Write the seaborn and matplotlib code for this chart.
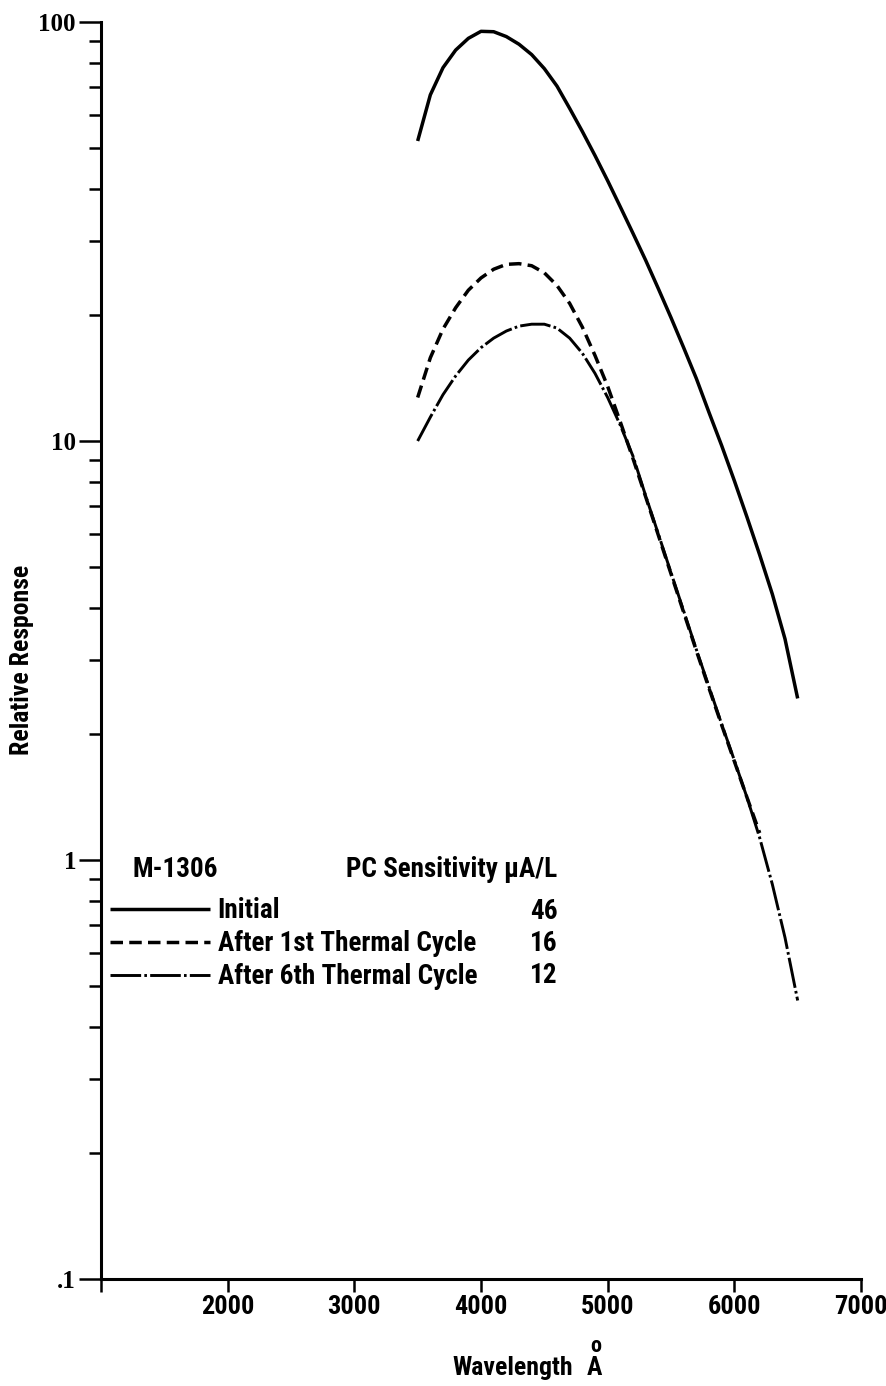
import numpy as np
import pandas as pd
import matplotlib
matplotlib.use("Agg")
import matplotlib.pyplot as plt
import seaborn as sns
from matplotlib import font_manager as fm
from matplotlib.ticker import FixedLocator, FixedFormatter, LogLocator, NullFormatter

# ---------------- data ----------------
wavelength_initial = [3500, 3600, 3700, 3800, 3900, 4000, 4100, 4200, 4300, 4400,
                      4500, 4600, 4700, 4800, 4900, 5000, 5100, 5200, 5300, 5400,
                      5500, 5600, 5700, 5800, 5900, 6000, 6100, 6200, 6300, 6400, 6500]
response_initial = [52.0, 67.0, 77.8, 85.7, 91.4, 95.0, 94.8, 92.3, 88.5, 83.6,
                    77.4, 70.3, 62.2, 54.8, 48.0, 41.8, 36.2, 31.3, 27.0, 23.1,
                    19.7, 16.7, 14.1, 11.7, 9.75, 8.04, 6.58, 5.35, 4.31, 3.37, 2.43]

wavelength_cycle1 = [3500, 3600, 3700, 3800, 3900, 4000, 4100, 4200, 4300, 4400,
                     4500, 4600, 4700, 4800, 4900, 5000, 5100, 5200, 5300, 5400,
                     5500, 5600, 5700, 5800, 5900, 6000, 6100, 6200]
response_cycle1 = [12.7, 15.8, 18.5, 20.8, 22.9, 24.5, 25.7, 26.4, 26.5, 26.2,
                   25.2, 23.5, 21.3, 18.7, 16.0, 13.5, 11.1, 9.08, 7.36, 5.96,
                   4.82, 3.90, 3.16, 2.57, 2.10, 1.72, 1.41, 1.16]

wavelength_cycle6 = [3500, 3600, 3700, 3800, 3900, 4000, 4100, 4200, 4300, 4400,
                     4500, 4600, 4700, 4800, 4900, 5000, 5100, 5200, 5300, 5400,
                     5500, 5600, 5700, 5800, 5900, 6000, 6100, 6200, 6300, 6400, 6500]
response_cycle6 = [10.0, 11.4, 12.9, 14.3, 15.6, 16.7, 17.6, 18.3, 18.8, 19.0,
                   19.0, 18.6, 17.6, 16.2, 14.5, 12.7, 10.9, 9.2, 7.4, 6.0,
                   4.85, 3.93, 3.18, 2.59, 2.11, 1.73, 1.41, 1.13, 0.875, 0.653, 0.462]

series_labels = ["Initial", "After 1st Thermal Cycle", "After 6th Thermal Cycle"]
pc_sensitivity = ["46", "16", "12"]
tube_id = "M-1306"
sensitivity_header = "PC Sensitivity \u00b5A/L"

x_ticks = [1000, 2000, 3000, 4000, 5000, 6000, 7000]
x_tick_labels = ["", "2000", "3000", "4000", "5000", "6000", "7000"]
y_ticks = [0.1, 1, 10, 100]
y_tick_labels = [".1", "1", "10", "100"]

# ---------------- fonts ----------------
sns.set_theme(style="ticks")
names = {f.name for f in fm.fontManager.ttflist}
has_dejavu_cond = any(f.name == "DejaVu Sans" and str(f.stretch) in ("condensed", "semi-condensed")
                      for f in fm.fontManager.ttflist)
SANS = None
STRETCH = "normal"
for cand in ["Liberation Sans Narrow", "Roboto Condensed", "Open Sans Condensed"]:
    if cand in names:
        SANS = cand
        break
if SANS is None:
    if has_dejavu_cond:
        SANS, STRETCH = "DejaVu Sans", "condensed"
    elif "Liberation Sans" in names:
        SANS = "Liberation Sans"
    else:
        SANS = "DejaVu Sans"
SERIF = "Liberation Serif" if "Liberation Serif" in names else "DejaVu Serif"
plt.rcParams["font.family"] = [SANS, "DejaVu Sans"]
plt.rcParams["font.stretch"] = STRETCH

W, H = 886, 1386
fig = plt.figure(figsize=(W / 100, H / 100), dpi=100)
fig.patch.set_facecolor("white")
ax = fig.add_axes([101 / W, 1 - 1279 / H, 760 / W, 1257 / H])
ax.set_facecolor("white")


def fx(px):
    return px / W


def fy(py):
    return 1 - py / H


df = pd.concat([
    pd.DataFrame({"wavelength": wavelength_initial, "response": response_initial, "series": series_labels[0]}),
    pd.DataFrame({"wavelength": wavelength_cycle1, "response": response_cycle1, "series": series_labels[1]}),
    pd.DataFrame({"wavelength": wavelength_cycle6, "response": response_cycle6, "series": series_labels[2]}),
])

styles = {
    series_labels[0]: dict(lw=2.5, ls="-"),
    series_labels[1]: dict(lw=2.5, ls=(0, (3.6, 1.8))),
    series_labels[2]: dict(lw=2.1, ls=(0, (10.5, 1.1, 0.9, 1.1))),
}
handles = []
for lab in series_labels:
    sub = df[df["series"] == lab]
    n_before = len(ax.lines)
    sns.lineplot(data=sub, x="wavelength", y="response", ax=ax, color="black",
                 estimator=None, sort=True, lw=styles[lab]["lw"])
    line = ax.lines[n_before]
    line.set_linestyle(styles[lab]["ls"])
    line.set_solid_capstyle("butt")
    line.set_solid_joinstyle("round")
    line.set_label(lab)
    handles.append(line)

ax.set_yscale("log")
ax.set_xlim(1000, 7000)
ax.set_ylim(0.1, 100)
ax.grid(False)
sns.despine(ax=ax)
for s in ("left", "bottom"):
    ax.spines[s].set_linewidth(2.2)
    ax.spines[s].set_color("black")

ax.xaxis.set_major_locator(FixedLocator(x_ticks))
ax.xaxis.set_major_formatter(FixedFormatter(x_tick_labels))
ax.yaxis.set_major_locator(FixedLocator(y_ticks))
ax.yaxis.set_major_formatter(FixedFormatter(y_tick_labels))
ax.yaxis.set_minor_locator(LogLocator(base=10, subs=np.arange(2, 10)))
ax.yaxis.set_minor_formatter(NullFormatter())
ax.tick_params(axis="x", which="major", direction="out", length=9.5, width=1.8,
               color="black", pad=2, labelsize=19, labelcolor="black")
ax.tick_params(axis="y", which="major", direction="out", length=16, width=1.8,
               color="black", pad=2, labelsize=18, labelcolor="black")
ax.tick_params(axis="y", which="minor", direction="out", length=8.5, width=1.8, color="black")
for t in ax.get_xticklabels():
    t.set_fontweight("bold")
for t in ax.get_yticklabels():
    t.set_family(SERIF)
    t.set_fontweight("bold")
ax.set_xlabel("")
ax.set_ylabel("")

# axis titles
fig.text(fx(22), fy(660), "Relative Response", rotation=90, ha="center", va="center",
         fontsize=18.5, fontweight="bold", color="black")
fig.text(fx(452), fy(1375), "Wavelength", ha="left", va="baseline",
         fontsize=18.5, fontweight="bold", color="black")
fig.text(fx(587), fy(1375), "A", ha="left", va="baseline",
         fontsize=18.5, fontweight="bold", color="black")
fig.text(fx(596), fy(1352), "o", ha="center", va="baseline",
         fontsize=16, fontweight="bold", color="black")

# legend block
fs_leg = 19.5
fig.text(fx(133), fy(877), tube_id, ha="left", va="baseline", fontsize=fs_leg,
         fontweight="bold", color="black")
fig.text(fx(452), fy(877), sensitivity_header, ha="center", va="baseline", fontsize=fs_leg,
         fontweight="bold", color="black")
leg = ax.legend(handles=handles, labels=series_labels, loc="upper left",
                bbox_to_anchor=(fx(110), fy(897)), bbox_transform=fig.transFigure,
                frameon=False, borderpad=0, borderaxespad=0, handlelength=3.7,
                handletextpad=0.27, labelspacing=0.23,
                prop=dict(size=fs_leg, weight="bold"))
for t in leg.get_texts():
    t.set_color("black")
for py, val in zip([919, 951, 983], pc_sensitivity):
    fig.text(fx(530), fy(py), val, ha="left", va="baseline", fontsize=fs_leg,
             fontweight="bold", color="black")

fig.savefig("out.png", dpi=100, facecolor="white")
